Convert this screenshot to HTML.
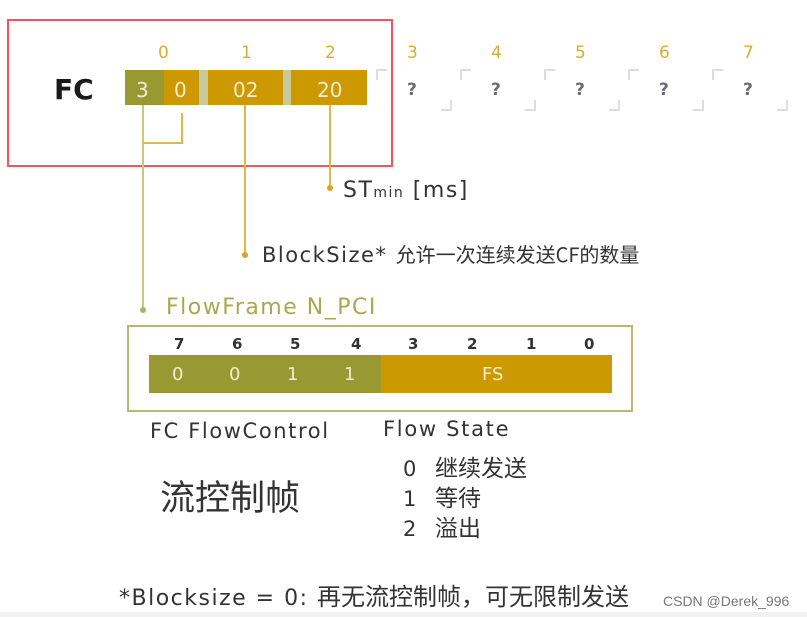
<!DOCTYPE html>
<html><head><meta charset="utf-8"><style>
body{margin:0;width:807px;height:617px;background:#fff;position:relative;overflow:hidden;font-family:"DejaVu Sans","Liberation Sans","Noto Sans CJK SC",sans-serif;}
.a{position:absolute;white-space:nowrap;line-height:1;}
.b{position:absolute;}
.gold{background:#cc9900;}
.ol{background:#999933;}
.cn{font-family:"Noto Sans CJK SC",sans-serif;letter-spacing:0;}
.n{color:#d9ad33;font-size:17px;}
.q{color:#6a6a7a;font-size:17px;font-weight:bold;}
.bit{font-size:15px;font-weight:bold;color:#333;}
.w{color:#f4ecd0;font-size:20px;}
.tl{position:absolute;width:9px;height:9px;border-left:2px solid #ddd;border-top:2px solid #ddd;}
.br{position:absolute;width:9px;height:9px;border-right:2px solid #ddd;border-bottom:2px solid #ddd;}
.dot{position:absolute;width:6px;height:6px;border-radius:3px;}
</style></head><body>
<div class="b" style="left:7px;top:19px;width:382px;height:144px;border:2px solid #f25560;"></div>
<div class="a" style="left:54px;top:76px;font-size:28px;font-weight:bold;color:#1a1a1a;">FC</div>
<div class="a n" style="left:158px;top:45px;">0</div>
<div class="a n" style="left:241px;top:45px;">1</div>
<div class="a n" style="left:325px;top:45px;">2</div>
<div class="b ol" style="left:125px;top:70px;width:39px;height:35px;"></div>
<div class="b gold" style="left:164px;top:70px;width:35px;height:35px;"></div>
<div class="b" style="left:199px;top:70px;width:9px;height:35px;background:#c8c89a;"></div>
<div class="b gold" style="left:208px;top:70px;width:75px;height:35px;"></div>
<div class="b" style="left:283px;top:70px;width:8px;height:35px;background:#c8c89a;"></div>
<div class="b gold" style="left:291px;top:70px;width:76px;height:35px;"></div>
<div class="a w" style="left:136px;top:80px;">3</div>
<div class="a w" style="left:174px;top:80px;">0</div>
<div class="a w" style="left:233px;top:80px;">02</div>
<div class="a w" style="left:317px;top:80px;">20</div>
<div class="tl" style="left:376px;top:69px;"></div><div class="br" style="left:441px;top:100px;"></div>
<div class="tl" style="left:460px;top:69px;"></div><div class="br" style="left:525px;top:100px;"></div>
<div class="tl" style="left:544px;top:69px;"></div><div class="br" style="left:609px;top:100px;"></div>
<div class="tl" style="left:628px;top:69px;"></div><div class="br" style="left:693px;top:100px;"></div>
<div class="tl" style="left:712px;top:69px;"></div><div class="br" style="left:777px;top:100px;"></div>
<div class="a n" style="left:407px;top:45px;">3</div><div class="a q" style="left:407px;top:82px;">?</div>
<div class="a n" style="left:491px;top:45px;">4</div><div class="a q" style="left:491px;top:82px;">?</div>
<div class="a n" style="left:575px;top:45px;">5</div><div class="a q" style="left:575px;top:82px;">?</div>
<div class="a n" style="left:659px;top:45px;">6</div><div class="a q" style="left:659px;top:82px;">?</div>
<div class="a n" style="left:743px;top:45px;">7</div><div class="a q" style="left:743px;top:82px;">?</div>
<div class="b" style="left:142px;top:105px;width:2px;height:205px;background:#c8c87a;"></div>
<div class="b" style="left:181px;top:113px;width:2px;height:31px;background:#e0b84a;"></div>
<div class="b" style="left:143px;top:142px;width:40px;height:2px;background:#e0b84a;"></div>
<div class="b" style="left:244px;top:105px;width:2px;height:150px;background:#e0b84a;"></div>
<div class="b" style="left:329px;top:105px;width:2px;height:83px;background:#e0b84a;"></div>
<div class="dot" style="left:327px;top:185px;background:#d9a520;"></div>
<div class="dot" style="left:242px;top:252px;background:#d9a520;"></div>
<div class="dot" style="left:140px;top:307px;background:#b0b060;"></div>
<div class="a" style="left:343px;top:180px;font-size:22px;color:#333;letter-spacing:1.5px;">ST<span style="font-size:14px;">min</span> [ms]</div>
<div class="a" style="left:262px;top:244px;font-size:21px;color:#333;letter-spacing:1.5px;">BlockSize* <span class="cn" style="font-size:20px;">允许一次连续发送CF的数量</span></div>
<div class="a" style="left:166px;top:297px;font-size:22px;color:#a8a850;letter-spacing:1.5px;">FlowFrame N_PCI</div>
<div class="b" style="left:127px;top:325px;width:502px;height:83px;border:2px solid #b8b870;"></div>
<div class="a bit" style="left:174px;top:337px;">7</div>
<div class="a bit" style="left:232px;top:337px;">6</div>
<div class="a bit" style="left:290px;top:337px;">5</div>
<div class="a bit" style="left:351px;top:337px;">4</div>
<div class="a bit" style="left:408px;top:337px;">3</div>
<div class="a bit" style="left:467px;top:337px;">2</div>
<div class="a bit" style="left:526px;top:337px;">1</div>
<div class="a bit" style="left:584px;top:337px;">0</div>
<div class="b ol" style="left:149px;top:355px;width:232px;height:38px;"></div>
<div class="b gold" style="left:381px;top:355px;width:231px;height:38px;"></div>
<div class="a w" style="left:172px;top:366px;font-size:18px;">0</div>
<div class="a w" style="left:229px;top:366px;font-size:18px;">0</div>
<div class="a w" style="left:287px;top:366px;font-size:18px;">1</div>
<div class="a w" style="left:344px;top:366px;font-size:18px;">1</div>
<div class="a w" style="left:482px;top:366px;font-size:18px;">FS</div>
<div class="a" style="left:150px;top:421px;font-size:21px;color:#333;letter-spacing:1.6px;">FC FlowControl</div>
<div class="a" style="left:383px;top:419px;font-size:21px;color:#333;letter-spacing:1.7px;">Flow State</div>
<div class="a cn" style="left:160px;top:478px;font-size:35px;color:#333;">流控制帧</div>
<div class="a" style="left:403px;top:455px;font-size:21px;color:#333;">0 <span class="cn" style="margin-left:12px;font-size:23px;">继续发送</span></div>
<div class="a" style="left:403px;top:485px;font-size:21px;color:#333;">1 <span class="cn" style="margin-left:12px;font-size:23px;">等待</span></div>
<div class="a" style="left:403px;top:515px;font-size:21px;color:#333;">2 <span class="cn" style="margin-left:12px;font-size:23px;">溢出</span></div>
<div class="a" style="left:119px;top:583px;font-size:22px;color:#333;letter-spacing:1.5px;">*Blocksize = 0: <span class="cn" style="font-size:24px;">再无流控制帧，可无限制发送</span></div>
<div class="a" style="left:663px;top:594px;font-size:14px;color:#777;font-family:'Liberation Sans',sans-serif;">CSDN @Derek_996</div>
<div class="b" style="left:0;top:612px;width:807px;height:5px;background:#f2f2f2;"></div>
</body></html>
